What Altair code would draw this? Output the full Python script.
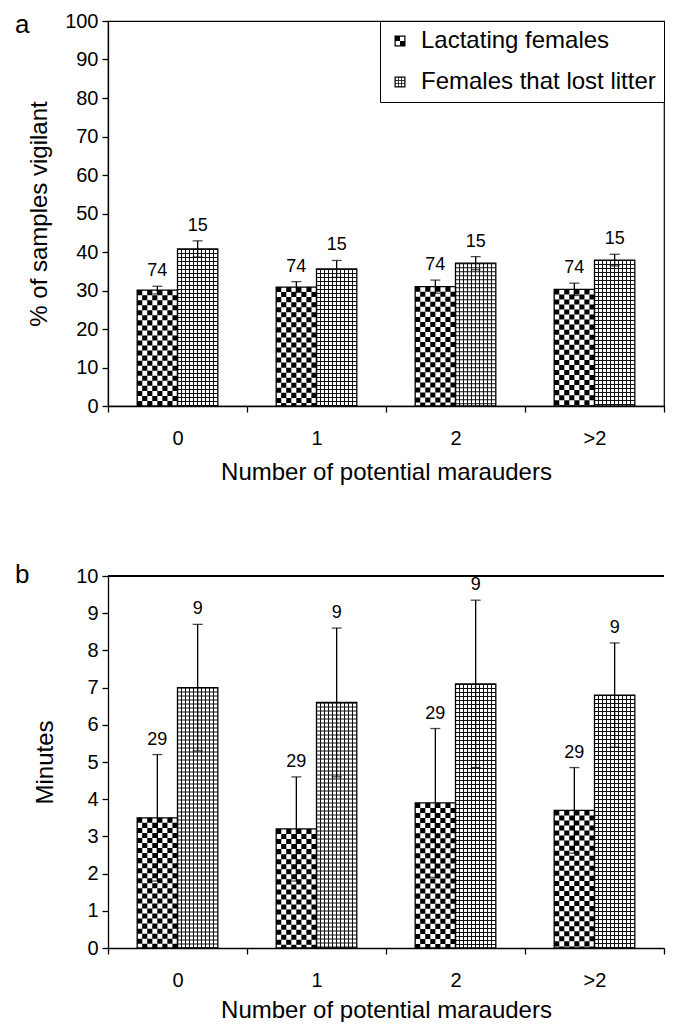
import altair as alt
import pandas as pd

FONT = "Liberation Sans"

categories = ["0", "1", "2", ">2"]
series_names = ["Lactating females", "Females that lost litter"]

# panel a: % of samples vigilant
vig_lact = [30.1, 30.9, 31.0, 30.3]
vig_lact_err = [1.0, 1.4, 1.7, 1.6]
vig_lost = [40.8, 35.6, 37.1, 37.9]
vig_lost_err = [2.1, 2.2, 1.7, 1.5]
vig_n = ["74", "15"]

# panel b: minutes
min_lact = [3.5, 3.2, 3.9, 3.7]
min_lact_err = [1.7, 1.4, 2.0, 1.15]
min_lost = [7.0, 6.6, 7.1, 6.8]
min_lost_err = [1.7, 2.0, 2.25, 1.4]
min_n = ["29", "9"]


def build(lact, lact_err, lost, lost_err, n):
    rows = []
    for i, c in enumerate(categories):
        for s, vals, errs, nn in [
            (series_names[0], lact, lact_err, n[0]),
            (series_names[1], lost, lost_err, n[1]),
        ]:
            rows.append(dict(category=c, series=s, value=vals[i],
                             lo=vals[i] - errs[i], hi=vals[i] + errs[i],
                             n=nn, zero=0))
    return pd.DataFrame(rows)


# pattern construction (checkerboard columns inside each lactating bar)
N_CHECK = 8
N_PAD = 5
slots = ([f"P{k}" for k in range(N_PAD)] + [f"L{k}" for k in range(N_CHECK)]
         + [f"G{k}" for k in range(N_CHECK)] + [f"Q{k}" for k in range(N_PAD)])

BAR_FRAC = 0.58  # share of each category step taken by the pair of bars
SER_PAD = (1 / BAR_FRAC - 1)
SLOT_PAD = (2 * N_CHECK / BAR_FRAC - len(slots)) / 2


def checker_cols(df):
    lact = df[df.series == series_names[0]]
    rows = []
    for _, r in lact.iterrows():
        for k in range(N_CHECK):
            rows.append(dict(category=r.category, value=r.value, zero=0,
                             slot=f"L{k}", parity=k % 2))
    return pd.DataFrame(rows)


def grid_gradient(n_cells, frac):
    stops = [alt.GradientStop(color="white", offset=0)]
    for k in range(1, n_cells):
        c = k / n_cells
        a, b = c - frac / 2, c + frac / 2
        stops += [alt.GradientStop(color="white", offset=a),
                  alt.GradientStop(color="#111", offset=a),
                  alt.GradientStop(color="#111", offset=b),
                  alt.GradientStop(color="white", offset=b)]
    stops.append(alt.GradientStop(color="white", offset=1))
    return alt.LinearGradient(gradient="linear", stops=stops, x1=0, x2=1, y1=0, y2=0)


def rect(x0, y0, x1, y1, hole=False):
    if hole:
        return f"M{x0},{y0}V{y1}H{x1}V{y0}Z"
    return f"M{x0},{y0}H{x1}V{y1}H{x0}Z"


ring = rect(-1, -1, 1, 1) + rect(-0.78, -0.78, 0.78, 0.78, hole=True)
checker_path = ring + rect(-0.78, -0.78, 0, 0) + rect(0, 0, 0.78, 0.78)
grid_path = (ring + rect(-0.34, -1, -0.2, 1) + rect(0.2, -1, 0.34, 1)
             + rect(-1, -0.34, 1, -0.2) + rect(-1, 0.2, 1, 0.34))


def panel(df, width, height, ymax, ystep, ytitle, letter, letter_x, letter_y,
          with_legend, label_pad, title_pad, ytitle_pad, framed):
    step = width / 4
    half = step * BAR_FRAC / 2
    cw = half / N_CHECK
    xscale = alt.Scale(domain=categories, paddingInner=0, paddingOuter=0)
    x = alt.X("category:N", sort=categories, scale=xscale,
              axis=alt.Axis(title="Number of potential marauders", labelAngle=0,
                            tickBand="extent", labelPadding=label_pad,
                            titlePadding=title_pad))
    xo = alt.XOffset("series:N",
                     scale=alt.Scale(type="band", domain=series_names,
                                     paddingInner=0, paddingOuter=SER_PAD))
    xo_slot = alt.XOffset("slot:N",
                          scale=alt.Scale(type="band", domain=slots,
                                          paddingInner=0, paddingOuter=SLOT_PAD))
    yax = alt.Axis(title=ytitle, values=list(range(0, ymax + 1, ystep)), format="d",
                   titlePadding=ytitle_pad)
    ysc = alt.Scale(domain=[0, ymax], nice=False, zero=True)

    def y(f):
        return alt.Y(f"{f}:Q", scale=ysc, axis=yax)

    df_lact = df[df.series == series_names[0]]
    df_lost = df[df.series == series_names[1]]
    cols = checker_cols(df)

    lact_bg = alt.Chart(df_lact).mark_bar(fill="white", strokeWidth=0).encode(
        x=x, xOffset=xo, y=y("value"))
    chk_even = alt.Chart(cols[cols.parity == 0]).mark_rule(
        color="black", strokeWidth=cw + 0.1, strokeDash=[cw, cw]).encode(
        x=x, xOffset=xo_slot, y=y("value"), y2="zero:Q")
    chk_odd = alt.Chart(cols[cols.parity == 1]).mark_rule(
        color="black", strokeWidth=cw + 0.1, strokeDash=[cw, cw],
        strokeDashOffset=cw).encode(
        x=x, xOffset=xo_slot, y=y("value"), y2="zero:Q")
    lost_bg = alt.Chart(df_lost).mark_bar(
        fill=grid_gradient(10, 1.0 / half), strokeWidth=0).encode(
        x=x, xOffset=xo, y=y("value"))
    lost_h = alt.Chart(df_lost).mark_rule(
        color="#111", strokeWidth=half, strokeDash=[1, 3]).encode(
        x=x, xOffset=xo, y=y("value"), y2="zero:Q")
    outline = alt.Chart(df).mark_bar(
        fill="white", fillOpacity=0, stroke="black", strokeWidth=1.3).encode(
        x=x, xOffset=xo, y=y("value"))
    err = alt.Chart(df).mark_rule(color="black", strokeWidth=1.3).encode(
        x=x, xOffset=xo, y=y("lo"), y2="hi:Q")
    cap_hi = alt.Chart(df).mark_tick(color="black", thickness=1.3, size=10).encode(
        x=x, xOffset=xo, y=y("hi"))
    cap_lo = alt.Chart(df).mark_tick(color="black", thickness=1.3, size=10).encode(
        x=x, xOffset=xo, y=y("lo"))
    labels = alt.Chart(df).mark_text(
        fontSize=18, font=FONT, dy=-15, baseline="middle", color="black").encode(
        x=x, xOffset=xo, y=y("hi"), text="n:N")
    letter_mark = alt.Chart(pd.DataFrame({"t": [letter]})).mark_text(
        align="left", baseline="top", fontSize=26, font=FONT,
        color="black").encode(
        x=alt.value(letter_x), y=alt.value(letter_y), text="t:N")

    layers = [lact_bg, chk_even, chk_odd, lost_bg, lost_h, outline,
              err, cap_hi, cap_lo, labels, letter_mark]
    if not framed:
        top = alt.Chart(df).mark_rule(color="black", strokeWidth=1.2).encode(
            y=alt.YDatum(ymax, scale=ysc, axis=yax))
        layers.append(top)
    if with_legend:
        leg = alt.Chart(df).mark_point(filled=True, color="black", opacity=0).encode(
            x=x, y=y("value"),
            shape=alt.Shape("series:N", sort=series_names,
                            scale=alt.Scale(domain=series_names,
                                            range=[checker_path, grid_path]),
                            legend=alt.Legend(
                                title=None, orient="top-right", offset=0,
                                strokeColor="black", fillColor="white",
                                padding=8, rowPadding=17, labelFontSize=24,
                                labelFont=FONT, labelColor="black", labelLimit=400,
                                symbolSize=121, symbolOpacity=1,
                                labelOffset=9, cornerRadius=0)))
        layers.append(leg)

    view = alt.ViewBackground(stroke="black", strokeWidth=1.2) if framed else \
        alt.ViewBackground(strokeWidth=0)
    return alt.layer(*layers).resolve_scale(xOffset="independent").properties(
        width=width, height=height, view=view)


df_a = build(vig_lact, vig_lact_err, vig_lost, vig_lost_err, vig_n)
df_b = build(min_lact, min_lact_err, min_lost, min_lost_err, min_n)

pa = panel(df_a, 556, 385, 100, 10, "% of samples vigilant", "a", -93, -9,
           True, 16, 12, 13, True)
pb = panel(df_b, 556, 372, 10, 1, "Minutes", "b", -93, -14,
           False, 16, 8, 18, False)

chart = alt.vconcat(pa, pb, spacing=77).resolve_legend(shape="independent").properties(
    padding={"top": 2, "left": 6, "right": 0, "bottom": 0}
).configure_view(strokeWidth=0).configure_axis(
    domainColor="black", domainWidth=1.3, tickColor="black", tickWidth=1.3,
    tickSize=6, labelColor="black", titleColor="black", labelFont=FONT,
    titleFont=FONT, labelFontSize=20, titleFontSize=24, titleFontWeight="normal",
    grid=False, labelPadding=4, titlePadding=12
)

chart.save("out.html", embed_options={"renderer": "svg", "actions": False})
